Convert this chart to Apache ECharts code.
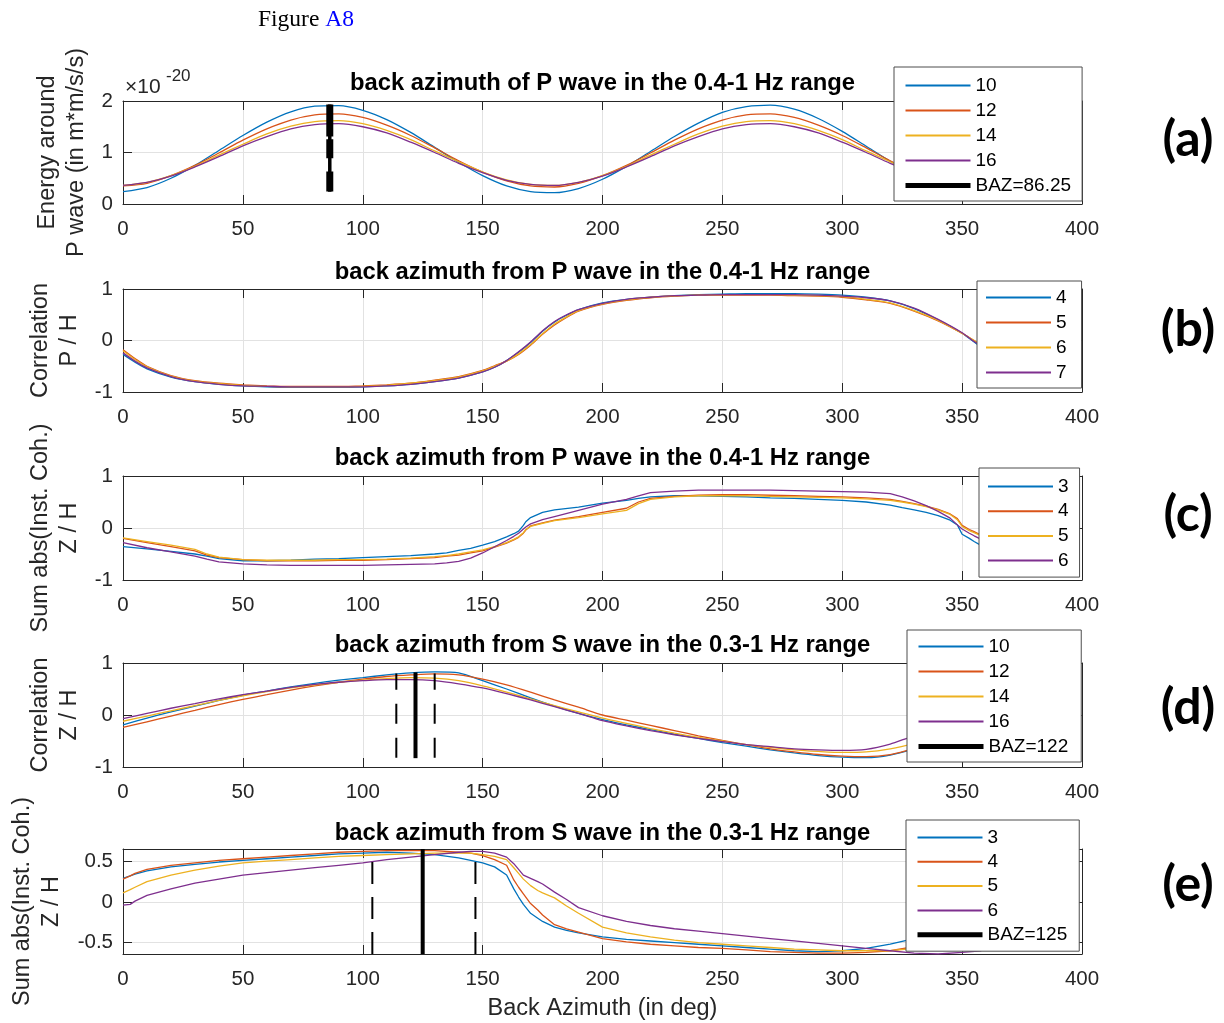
<!DOCTYPE html>
<html><head><meta charset="utf-8">
<script src="https://cdn.jsdelivr.net/npm/echarts@6/dist/echarts.min.js"></script>
<style>html,body{margin:0;padding:0;background:#fff}#c{width:1224px;height:1023px}</style>
</head><body><div id="c"></div><script>
// ---------------- DATA ----------------
const xTicks = { min: 0, max: 400, step: 50 };

// (a) Energy around P wave (x 1e-20)
const xA = [0,10,20,30,40,50,60,70,80,90,100,110,120,130,140,150,160,170,180,190,200,210,220,230,240,250,260,270,280,290,300,310,320,330,340,350,360];
const a10 = [0.24,0.32,0.50,0.75,1.04,1.33,1.59,1.79,1.90,1.91,1.82,1.64,1.39,1.10,0.81,0.55,0.35,0.24,0.22,0.30,0.48,0.73,1.02,1.31,1.57,1.78,1.89,1.92,1.84,1.66,1.41,1.12,0.83,0.57,0.37,0.26,0.23];
const a12 = [0.35,0.40,0.55,0.75,0.99,1.24,1.46,1.63,1.73,1.75,1.68,1.53,1.33,1.09,0.84,0.62,0.45,0.35,0.33,0.40,0.55,0.75,0.99,1.24,1.46,1.63,1.73,1.75,1.68,1.53,1.33,1.09,0.84,0.62,0.45,0.35,0.34];
const a14 = [0.36,0.42,0.55,0.73,0.95,1.16,1.36,1.51,1.60,1.62,1.56,1.43,1.25,1.03,0.82,0.62,0.47,0.38,0.36,0.42,0.55,0.73,0.95,1.16,1.36,1.51,1.60,1.62,1.56,1.43,1.25,1.03,0.82,0.62,0.47,0.38,0.36];
const a16 = [0.36,0.42,0.54,0.72,0.92,1.13,1.31,1.46,1.54,1.56,1.50,1.38,1.20,1.00,0.79,0.61,0.46,0.38,0.36,0.42,0.54,0.72,0.92,1.13,1.31,1.46,1.54,1.56,1.50,1.38,1.20,1.00,0.79,0.61,0.46,0.38,0.36];
const aNames = ['10','12','14','16'];
const bazA = 86.25, bazARange = [1.93, 0.24];

// (b) Correlation P/H
const xB = [0,5,10,20,30,40,50,60,70,80,90,100,110,120,130,140,150,155,160,165,170,175,180,185,190,200,210,220,230,240,250,260,270,280,290,300,310,320,330,340,350,355,358];
const b4 = [-0.27,-0.42,-0.55,-0.71,-0.8,-0.85,-0.88,-0.9,-0.91,-0.91,-0.91,-0.9,-0.88,-0.85,-0.8,-0.73,-0.61,-0.52,-0.39,-0.23,-0.04,0.18,0.36,0.49,0.6,0.73,0.8,0.84,0.87,0.89,0.9,0.91,0.91,0.91,0.9,0.88,0.84,0.77,0.62,0.4,0.14,-0.03,-0.13];
const b5 = [-0.18,-0.35,-0.5,-0.68,-0.78,-0.83,-0.86,-0.88,-0.89,-0.89,-0.89,-0.88,-0.86,-0.83,-0.77,-0.7,-0.58,-0.49,-0.4,-0.27,-0.09,0.12,0.3,0.45,0.57,0.7,0.78,0.83,0.86,0.88,0.88,0.88,0.88,0.87,0.86,0.84,0.79,0.72,0.57,0.38,0.14,0.0,-0.08];
const b6 = [-0.2,-0.37,-0.51,-0.69,-0.79,-0.84,-0.87,-0.89,-0.9,-0.9,-0.9,-0.89,-0.87,-0.83,-0.78,-0.71,-0.59,-0.5,-0.4,-0.26,-0.08,0.13,0.32,0.46,0.58,0.71,0.79,0.84,0.87,0.88,0.89,0.89,0.89,0.88,0.87,0.85,0.8,0.73,0.58,0.39,0.14,0.0,-0.09];
const b7 = [-0.24,-0.4,-0.53,-0.7,-0.8,-0.85,-0.88,-0.89,-0.9,-0.9,-0.9,-0.9,-0.88,-0.85,-0.8,-0.73,-0.61,-0.52,-0.39,-0.22,-0.03,0.19,0.37,0.5,0.6,0.72,0.8,0.84,0.87,0.88,0.89,0.89,0.89,0.89,0.88,0.86,0.83,0.77,0.63,0.41,0.15,-0.02,-0.11];
const bNames = ['4','5','6','7'];

// (c) Sum abs(Inst. Coh.) Z/H, P wave
const xC = [0,10,20,30,35,40,50,60,70,80,90,100,110,120,130,135,140,145,150,155,160,163,165,167,168,170,175,180,190,200,210,215,220,230,240,250,260,270,280,290,300,310,320,325,330,335,340,345,348,350,353,355,358];
const c3 = [-0.36,-0.4,-0.45,-0.5,-0.54,-0.59,-0.63,-0.63,-0.62,-0.6,-0.59,-0.57,-0.55,-0.53,-0.5,-0.48,-0.43,-0.39,-0.33,-0.26,-0.17,-0.11,-0.06,0.05,0.12,0.2,0.3,0.35,0.4,0.48,0.53,0.57,0.6,0.62,0.62,0.61,0.6,0.58,0.57,0.55,0.53,0.5,0.44,0.39,0.35,0.3,0.24,0.15,0.06,-0.12,-0.2,-0.26,-0.34];
const c4 = [-0.2,-0.28,-0.36,-0.44,-0.52,-0.57,-0.61,-0.63,-0.63,-0.63,-0.62,-0.62,-0.61,-0.59,-0.57,-0.54,-0.52,-0.48,-0.44,-0.37,-0.29,-0.23,-0.18,-0.1,-0.04,0.04,0.1,0.15,0.22,0.3,0.38,0.5,0.57,0.61,0.63,0.64,0.64,0.63,0.62,0.61,0.6,0.58,0.55,0.51,0.47,0.42,0.36,0.27,0.18,0.05,-0.03,-0.07,-0.14];
const c5 = [-0.19,-0.26,-0.33,-0.41,-0.5,-0.56,-0.61,-0.62,-0.62,-0.62,-0.61,-0.61,-0.6,-0.58,-0.55,-0.53,-0.5,-0.46,-0.42,-0.36,-0.28,-0.22,-0.17,-0.09,-0.03,0.03,0.09,0.14,0.2,0.27,0.34,0.47,0.55,0.6,0.62,0.62,0.62,0.61,0.6,0.59,0.58,0.56,0.53,0.5,0.46,0.41,0.35,0.26,0.16,0.03,-0.05,-0.09,-0.15];
const c6 = [-0.28,-0.38,-0.46,-0.54,-0.6,-0.65,-0.69,-0.71,-0.72,-0.72,-0.72,-0.72,-0.71,-0.7,-0.69,-0.67,-0.64,-0.58,-0.48,-0.36,-0.24,-0.16,-0.1,-0.02,0.02,0.08,0.16,0.22,0.34,0.46,0.55,0.62,0.68,0.71,0.73,0.73,0.73,0.73,0.72,0.71,0.7,0.69,0.66,0.6,0.52,0.43,0.32,0.19,0.06,-0.02,-0.1,-0.15,-0.22];
const cNames = ['3','4','5','6'];

// (d) Correlation Z/H, S wave
const xD = [0,10,20,30,40,50,60,70,80,90,100,110,120,130,140,150,160,170,180,190,200,210,220,230,240,250,260,270,280,290,300,310,320,330,340,350,358];
const d10 = [-0.19,-0.06,0.06,0.17,0.28,0.38,0.46,0.54,0.61,0.67,0.72,0.77,0.81,0.83,0.81,0.66,0.5,0.33,0.17,0.03,-0.09,-0.19,-0.28,-0.37,-0.45,-0.53,-0.6,-0.67,-0.73,-0.78,-0.81,-0.82,-0.77,-0.65,-0.5,-0.35,-0.22];
const d12 = [-0.24,-0.13,-0.02,0.09,0.2,0.3,0.39,0.48,0.56,0.63,0.69,0.74,0.77,0.79,0.77,0.69,0.58,0.44,0.29,0.15,0.0,-0.1,-0.2,-0.3,-0.4,-0.49,-0.57,-0.65,-0.71,-0.76,-0.79,-0.8,-0.76,-0.64,-0.48,-0.33,-0.2];
const d14 = [-0.12,-0.02,0.08,0.18,0.28,0.37,0.45,0.52,0.58,0.63,0.67,0.7,0.72,0.71,0.66,0.56,0.44,0.31,0.18,0.06,-0.06,-0.16,-0.26,-0.35,-0.43,-0.5,-0.57,-0.62,-0.67,-0.7,-0.72,-0.71,-0.65,-0.55,-0.42,-0.3,-0.2];
const d16 = [-0.07,0.03,0.13,0.22,0.31,0.39,0.46,0.53,0.59,0.63,0.66,0.68,0.68,0.66,0.6,0.52,0.41,0.29,0.16,0.03,-0.11,-0.21,-0.3,-0.38,-0.45,-0.51,-0.57,-0.61,-0.65,-0.67,-0.68,-0.66,-0.56,-0.4,-0.3,-0.22,-0.16];
const dNames = ['10','12','14','16'];
const bazD = 122, bazDRange = [-0.83, 0.82], bazDBounds = [114, 130], bazDBoundRange = [-0.82, 0.8];

// (e) Sum abs(Inst. Coh.) Z/H, S wave
const xE = [0,3,5,10,20,30,40,50,60,70,80,90,100,110,120,130,140,145,150,155,160,163,165,167,170,173,175,180,185,190,200,210,220,230,240,250,260,270,280,290,300,310,320,330,340,350,358];
const e3 = [0.29,0.32,0.34,0.38,0.43,0.46,0.49,0.51,0.53,0.55,0.57,0.59,0.6,0.61,0.6,0.58,0.54,0.51,0.48,0.43,0.33,0.16,0.06,-0.03,-0.14,-0.2,-0.24,-0.31,-0.35,-0.38,-0.43,-0.46,-0.48,-0.5,-0.52,-0.54,-0.56,-0.58,-0.6,-0.61,-0.6,-0.57,-0.52,-0.45,-0.38,-0.3,-0.25];
const e4 = [0.28,0.32,0.35,0.4,0.45,0.48,0.51,0.53,0.55,0.57,0.59,0.61,0.62,0.63,0.63,0.63,0.61,0.6,0.57,0.52,0.45,0.27,0.18,0.1,-0.02,-0.1,-0.16,-0.28,-0.33,-0.37,-0.45,-0.49,-0.52,-0.54,-0.56,-0.57,-0.59,-0.61,-0.62,-0.63,-0.63,-0.62,-0.6,-0.55,-0.48,-0.4,-0.33];
const e5 = [0.11,0.15,0.18,0.25,0.33,0.39,0.44,0.48,0.5,0.52,0.54,0.56,0.57,0.58,0.59,0.6,0.6,0.6,0.58,0.56,0.52,0.42,0.35,0.28,0.2,0.14,0.11,0.05,-0.05,-0.14,-0.31,-0.38,-0.43,-0.47,-0.5,-0.52,-0.54,-0.56,-0.58,-0.59,-0.6,-0.6,-0.6,-0.57,-0.52,-0.46,-0.4];
const e6 = [-0.04,-0.03,0.01,0.08,0.16,0.23,0.28,0.33,0.36,0.39,0.42,0.45,0.48,0.52,0.55,0.58,0.61,0.62,0.62,0.6,0.55,0.47,0.4,0.33,0.29,0.25,0.22,0.12,0.03,-0.07,-0.17,-0.24,-0.29,-0.33,-0.36,-0.39,-0.42,-0.45,-0.48,-0.51,-0.54,-0.57,-0.6,-0.63,-0.64,-0.62,-0.6];
const eNames = ['3','4','5','6'];
const bazE = 125, bazERange = [-0.64, 0.65], bazEBounds = [104, 147], bazEBoundRange = [-0.64, 0.65];

const titles = [
  'back azimuth of P wave in the 0.4-1 Hz range',
  'back azimuth from P wave in the 0.4-1 Hz range',
  'back azimuth from P wave in the 0.4-1 Hz range',
  'back azimuth from S wave in the 0.3-1 Hz range',
  'back azimuth from S wave in the 0.3-1 Hz range'
];
const yNames = [
  'Energy around\nP wave (in m*m/s/s)',
  'Correlation\nP / H',
  'Sum abs(Inst. Coh.)\nZ / H',
  'Correlation\nZ / H',
  'Sum abs(Inst. Coh.)\nZ / H'
];
const panelLetters = ['(a)','(b)','(c)','(d)','(e)'];
const xAxisName = 'Back Azimuth (in deg)';

// ---------------- STYLE / LAYOUT ----------------
const COLORS = ['#0072BD','#D95319','#EDB120','#7E2F8E'];
const FONT = '"Liberation Sans", Arial, Helvetica, sans-serif';
const AX = '#262626';
const GRIDC = '#e2e2e2';
const L = 123, W = 959;

const panels = [
  { key:'a', top:101, h:103, x:xA, ys:[a10,a12,a14,a16], names:aNames, ymin:0, ymax:2, yint:1, smooth:0.25, nameGap:20,
    legend:{left:894, top:67, padding:[9,11,6,9], gap:6},
    baz:{x:bazA, r:bazARange, w:3.5, label:'BAZ=' + bazA}, dashA:true, titleY:83, letterY:140 },
  { key:'b', top:289, h:103, x:xB, ys:[b4,b5,b6,b7], names:bNames, ymin:-1, ymax:1, yint:1, smooth:0.25, nameGap:29,
    legend:{left:977, top:281, padding:[7,15,6,8], gap:6}, titleY:272, letterY:330 },
  { key:'c', top:476, h:104, x:xC, ys:[c3,c4,c5,c6], names:cNames, ymin:-1, ymax:1, yint:1, smooth:false, nameGap:29,
    legend:{left:979, top:468, padding:[9,11,7,8], gap:5.7}, titleY:458, letterY:515 },
  { key:'d', top:663, h:104, x:xD, ys:[d10,d12,d14,d16], names:dNames, ymin:-1, ymax:1, yint:1, smooth:0.25, nameGap:29,
    legend:{left:907, top:630, padding:[7,13,6,9], gap:6},
    baz:{x:bazD, r:bazDRange, w:4, label:'BAZ=' + bazD}, bounds:{xs:bazDBounds, r:bazDBoundRange, dash:[20,14]}, titleY:645, letterY:708 },
  { key:'e', top:849, h:105, x:xE, ys:[e3,e4,e5,e6], names:eNames, ymin:-0.64, ymax:0.65, yint:null, smooth:false, nameGap:57,
    legend:{left:906, top:820, padding:[8,12,7,9], gap:5.3},
    baz:{x:bazE, r:bazERange, w:4, label:'BAZ=' + bazE}, bounds:{xs:bazEBounds, r:bazEBoundRange, dash:[22,13]}, titleY:833, letterY:885 }
];

const grid = [], xAxis = [], yAxis = [], series = [], legend = [], graphic = [];

panels.forEach((p, i) => {
  grid.push({ left:L, width:W, top:p.top, height:p.h, containLabel:false });
  const tick = { show:true, inside:true, length:9, lineStyle:{ color:AX, width:1 } };
  const line = { show:true, onZero:false, lineStyle:{ color:AX, width:1 } };
  xAxis.push({
    gridIndex:i, type:'value', position:'bottom', min:xTicks.min, max:xTicks.max, interval:xTicks.step,
    axisLine:line, axisTick:tick,
    axisLabel:{ fontFamily:FONT, fontSize:20.5, color:AX, margin:15 },
    splitLine:{ show:true, lineStyle:{ color:GRIDC, width:1 } },
    name: i === 4 ? xAxisName : '', nameLocation:'middle', nameGap:43,
    nameTextStyle:{ fontFamily:FONT, fontSize:23.5, color:AX }
  });
  xAxis.push({
    gridIndex:i, type:'value', position:'top', min:xTicks.min, max:xTicks.max, interval:xTicks.step,
    axisLine:line, axisTick:tick, axisLabel:{ show:false }, splitLine:{ show:false }
  });
  const yBase = {
    gridIndex:i, type:'value', min:p.ymin, max:p.ymax,
    axisLine:line, axisTick:tick
  };
  if (p.yint) yBase.interval = p.yint; else yBase.splitNumber = 3;
  yAxis.push(Object.assign({}, yBase, {
    position:'left',
    axisLabel:{ fontFamily:FONT, fontSize:20.5, color:AX, margin:10, showMinLabel: !!p.yint, showMaxLabel: !!p.yint },
    splitLine:{ show:true, lineStyle:{ color:GRIDC, width:1 } },
    name:yNames[i], nameLocation:'middle', nameGap:p.nameGap,
    nameTextStyle:{ fontFamily:FONT, fontSize:23.5, color:AX, lineHeight:29, align:'center' }
  }));
  yAxis.push(Object.assign({}, yBase, {
    position:'right', axisLabel:{ show:false }, splitLine:{ show:false }
  }));
  const xi = 2*i, yi = 2*i;
  const legendData = [];
  p.ys.forEach((ys, k) => {
    const name = p.key + '|' + p.names[k];
    legendData.push(name);
    series.push({
      type:'line', name, xAxisIndex:xi, yAxisIndex:yi,
      data:p.x.map((xv, j) => [xv, ys[j]]),
      symbol:'none', smooth:p.smooth, silent:true,
      lineStyle:{ color:COLORS[k], width:1.3 }, itemStyle:{ color:COLORS[k] }, z:2
    });
  });
  if (p.baz) {
    const bname = p.key + '|' + p.baz.label;
    legendData.push({ name:bname, lineStyle:{ width:5, color:'#000' } });
    if (p.dashA) {
      series.push({
        type:'line', name:p.key + '|_dash', xAxisIndex:xi, yAxisIndex:yi,
        data:[[p.baz.x, p.baz.r[0]], [p.baz.x, p.baz.r[1]]],
        symbol:'none', silent:true,
        lineStyle:{ color:'#000', width:7, type:[32,2.6,19,13.4,20,60], cap:'butt' }, z:4
      });
    }
    if (p.bounds) {
      p.bounds.xs.forEach((bx, m) => {
        series.push({
          type:'line', name:p.key + '|_bound' + m, xAxisIndex:xi, yAxisIndex:yi,
          data:[[bx, p.bounds.r[0]], [bx, p.bounds.r[1]]],
          symbol:'none', silent:true,
          lineStyle:{ color:'#000', width:2, type:p.bounds.dash, cap:'butt' }, z:4
        });
      });
    }
    series.push({
      type:'line', name:bname, xAxisIndex:xi, yAxisIndex:yi,
      data:[[p.baz.x, p.baz.r[0]], [p.baz.x, p.baz.r[1]]],
      symbol:'none', silent:true,
      lineStyle:{ color:'#000', width:p.baz.w, cap:'butt' }, itemStyle:{ color:'#000' }, z:5
    });
  }
  legend.push({
    orient:'vertical', left:p.legend.left, top:p.legend.top, padding:p.legend.padding,
    itemWidth:65, itemHeight:19, itemGap:p.legend.gap, selectedMode:false,
    backgroundColor:'#fff', borderColor:'#4d4d4d', borderWidth:1, borderRadius:0,
    itemStyle:{ opacity:0, borderWidth:0 },
    textStyle:{ fontFamily:FONT, fontSize:19, color:'#000', lineHeight:19 },
    formatter:(n) => n.split('|')[1], data:legendData, z:10
  });
  graphic.push({
    type:'text', x:L + W/2, y:p.titleY, z:20,
    style:{ text:titles[i], font:'bold 23.8px ' + FONT, fill:'#000', textAlign:'center', textVerticalAlign:'middle' }
  });
  graphic.push({
    type:'text', x:1188, y:p.letterY, z:20,
    style:{ text:panelLetters[i], font:'bold 50px Lato, "Open Sans", sans-serif', fill:'#000', textAlign:'center', textVerticalAlign:'middle' }
  });
});

graphic.push({
  type:'text', x:258, y:20, z:20,
  style:{ text:'{f|Figure }{b|A8}', textVerticalAlign:'middle',
    rich:{ f:{ font:'23.5px "Liberation Serif", "Times New Roman", serif', fill:'#000' },
           b:{ font:'23.5px "Liberation Serif", "Times New Roman", serif', fill:'#0000ff' } } }
});
graphic.push({
  type:'text', x:125, y:87, z:20,
  style:{ text:'\u00d710', font:'21px ' + FONT, fill:AX, textVerticalAlign:'middle' }
});
graphic.push({
  type:'text', x:166, y:76, z:20,
  style:{ text:'-20', font:'17px ' + FONT, fill:AX, textVerticalAlign:'middle' }
});

const chart = echarts.init(document.getElementById('c'), null, { renderer:'canvas' });
chart.setOption({ animation:false, backgroundColor:'#fff', grid, xAxis, yAxis, series, legend, graphic });
</script></body></html>
